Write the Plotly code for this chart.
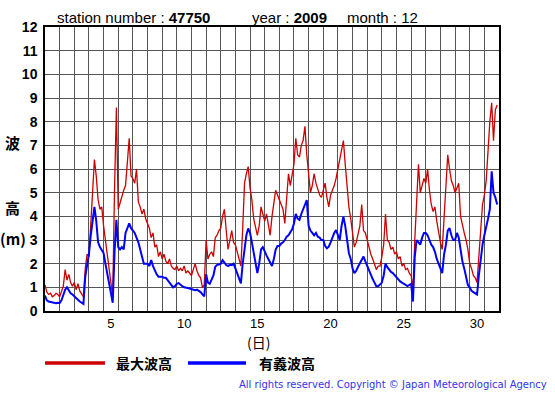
import plotly.graph_objects as go

# Observation times: every 3 hours from 1 Dec 00:00 (hours since start)
hours = list(range(0, 744, 3))

# 最大波高 (maximum wave height, m) – 8 readings per day, days 1..31
max_wave = [
    1.1, 0.8, 0.7, 0.75, 0.6, 0.65, 0.75, 0.7,
    0.6, 0.8, 1.05, 1.75, 1.3, 1.55, 1.2, 1.05,
    1.2, 0.9, 1.15, 0.85, 0.7, 0.6, 1.8, 2.4,
    2.3, 3.6, 5.3, 6.4, 5.7, 4.7, 4.3, 4.4,
    3.6, 3.0, 2.4, 1.8, 1.2, 0.6, 5.2, 8.6,
    4.3, 4.6, 4.9, 5.1, 5.3, 6.3, 7.3, 5.7,
    5.6, 5.4, 6.0, 4.6, 4.4, 4.1, 4.3, 3.9,
    3.7, 3.5, 3.1, 3.3, 2.7, 2.8, 2.3, 2.5,
    2.2, 2.4, 2.1, 2.0, 2.2, 1.9, 1.8, 1.75,
    1.9, 1.7, 1.8, 1.7, 1.9, 1.6, 1.7, 1.6,
    1.5, 1.75, 2.0, 1.7, 1.5, 1.4, 1.0, 1.1,
    3.0, 2.2, 2.4, 2.5, 2.3, 3.1, 3.2, 3.4,
    3.5, 4.0, 4.3, 3.4, 2.6, 3.0, 3.4, 2.9,
    2.8, 2.5, 2.2, 1.9, 3.5, 5.4, 5.8, 6.1,
    5.2, 4.7, 3.9, 3.5, 3.2, 3.6, 4.4, 4.1,
    3.8, 4.1, 3.6, 3.2, 4.0, 4.6, 5.1, 4.9,
    4.7, 4.5, 4.3, 3.7, 4.8, 5.8, 5.3, 5.7,
    6.2, 7.3, 6.6, 6.5, 7.0, 7.2, 7.8, 6.6,
    5.9, 5.0, 5.3, 5.8, 5.4, 5.1, 4.9, 4.8,
    5.1, 5.4, 4.8, 4.4, 4.9, 5.1, 5.3, 5.6,
    6.0, 6.5, 6.8, 7.2, 6.2, 5.3, 4.4, 3.9,
    3.2, 2.7, 2.9, 3.2, 3.6, 4.5, 3.4, 3.3,
    3.0, 2.6, 2.4, 2.2, 2.0, 1.75, 1.9, 1.9,
    2.3, 2.8, 4.1, 3.0, 2.9, 2.6, 2.7, 2.4,
    2.5, 2.2, 2.3, 1.9, 2.0, 1.75, 1.8, 1.6,
    1.5, 0.9, 3.0, 4.8, 6.2, 5.0, 5.3, 5.6,
    5.4, 6.0, 5.1, 4.5, 4.2, 4.4, 3.8, 3.3,
    2.9, 2.6, 3.8, 5.0, 6.6, 6.0, 5.5, 5.3,
    5.0, 5.2, 5.4, 4.0, 3.6, 3.3, 3.0, 2.6,
    2.0, 1.8, 1.5, 1.4, 1.2, 2.5, 3.4, 4.5,
    4.9, 5.5, 7.0, 8.0, 8.8, 7.2, 8.5, 8.7,
]

# 有義波高 (significant wave height, m)
sig_wave = [
    0.65, 0.45, 0.4, 0.38, 0.35, 0.35, 0.33, 0.35,
    0.33, 0.45, 0.7, 0.9, 1.0, 0.85, 0.75, 0.7,
    0.62, 0.55, 0.45, 0.4, 0.35, 0.3, 1.45, 1.9,
    2.4, 3.2, 3.7, 4.4, 3.8, 2.9, 2.7, 2.6,
    2.45, 2.0, 1.6, 1.1, 0.8, 0.35, 2.5, 3.85,
    2.7, 2.6, 2.7, 2.6, 3.3, 3.55, 3.7, 3.5,
    3.4, 3.3, 3.1, 2.9, 2.6, 2.3, 2.0, 2.0,
    2.0, 1.9, 2.15, 1.9, 1.7, 1.55, 1.45, 1.45,
    1.45, 1.4, 1.4, 1.3, 1.2, 1.05, 1.0, 1.05,
    1.15, 1.18, 1.1, 1.05, 1.0, 1.0, 0.97, 0.95,
    0.92, 0.9, 0.88, 0.9, 0.85, 0.8, 0.7, 0.62,
    1.55, 1.2, 1.15, 1.3, 1.5, 1.87, 1.95, 1.96,
    2.0, 2.15, 2.05, 1.94, 1.9, 1.95, 1.94, 2.0,
    1.8, 1.59, 1.35, 1.17, 2.0, 2.6, 3.2, 3.49,
    3.3, 2.9, 2.4, 2.0, 1.6, 2.0, 2.6, 2.7,
    2.5, 2.35, 2.2, 2.05, 1.9, 2.2, 2.6, 2.75,
    2.75, 2.85, 2.9, 3.0, 3.14, 3.2, 3.3, 3.45,
    3.7, 4.1, 3.9, 3.85, 4.1, 4.3, 4.5, 4.69,
    3.6, 3.4, 3.3, 3.2, 3.3, 3.14, 3.1, 3.0,
    3.0, 2.75, 2.65, 2.72, 2.9, 3.14, 3.3, 3.42,
    3.2, 3.0, 3.6, 3.98, 3.6, 3.0, 2.44, 2.2,
    1.8, 1.6, 1.7, 1.87, 2.0, 2.15, 2.3, 2.1,
    1.9, 1.7, 1.5, 1.35, 1.2, 1.05, 1.05, 1.15,
    1.2, 1.5, 2.0, 1.85, 1.73, 1.65, 1.6, 1.5,
    1.4, 1.3, 1.25, 1.2, 1.15, 1.1, 1.05, 1.1,
    1.15, 0.4, 2.3, 3.0, 2.9, 2.8, 3.1, 3.3,
    3.3, 3.2, 3.0, 2.8, 2.7, 2.5, 2.2, 2.0,
    1.8, 1.6, 2.4, 2.8, 3.4, 3.5, 3.2, 3.0,
    3.0, 3.3, 3.1, 2.5, 2.1, 1.8, 1.4, 1.1,
    1.0, 0.85, 0.8, 0.75, 0.7, 1.5, 2.2, 2.8,
    3.2, 3.5, 3.9, 4.3, 5.9, 5.0, 4.8, 4.5,
]

day_labels = ["5", "10", "15", "20", "25", "30"]
day_label_pos = [4.5, 9.5, 14.5, 19.5, 24.5, 29.5]   # centre of each labelled day
y_ticks = list(range(0, 13))

x_days = [h / 24 for h in hours]

W, H = 555, 395
L, R, T, B = 45, 499, 27, 311


def px(xp):
    return (xp - L) / (R - L)


def py(yp):
    return (B - yp) / (B - T)


RED = "#CC0000"
BLUE = "#0000FF"
GRID = "#555555"
FONT = "Liberation Sans, Arial, sans-serif"
CJK = "Noto Sans CJK JP, sans-serif"

fig = go.Figure()
fig.add_trace(go.Scatter(x=x_days, y=max_wave, mode="lines", name="最大波高",
                         line=dict(color=RED, width=1.3), showlegend=False))
fig.add_trace(go.Scatter(x=x_days, y=sig_wave, mode="lines", name="有義波高",
                         line=dict(color=BLUE, width=2), showlegend=False))

fig.update_layout(
    width=W, height=H,
    margin=dict(l=L, r=W - R, t=T, b=H - B, pad=0),
    paper_bgcolor="white", plot_bgcolor="white",
    font=dict(family=FONT, color="black", size=13),
    xaxis=dict(
        range=[0, 31], tickmode="array", tickvals=day_label_pos, ticktext=day_labels,
        showgrid=False, zeroline=False, ticks="", ticklen=0,
        tickfont=dict(size=13, family=FONT, color="black"),
        showline=True, linecolor="black", linewidth=1.5, mirror=True,
        minor=dict(tickvals=list(range(1, 31)), showgrid=True, gridcolor=GRID, gridwidth=1),
    ),
    yaxis=dict(
        range=[0, 12], tickmode="array", tickvals=y_ticks,
        showgrid=True, gridcolor=GRID, gridwidth=1, zeroline=False,
        ticks="", ticklen=0, ticklabelstandoff=3,
        tickfont=dict(size=14, family=FONT, color="black", weight="bold"),
        showline=True, linecolor="black", linewidth=1.5, mirror=True,
    ),
)

ann = []
# header
ann.append(dict(text="station number : <b>47750</b>", x=px(55), y=py(17), xanchor="left",
                yanchor="middle", font=dict(size=15, family=FONT)))
ann.append(dict(text="year : <b>2009</b>", x=px(250), y=py(17), xanchor="left",
                yanchor="middle", font=dict(size=15, family=FONT)))
ann.append(dict(text="month : 12", x=px(345), y=py(17), xanchor="left",
                yanchor="middle", font=dict(size=15, family=FONT)))
# y title
for t, yy in [("波", 142), ("高", 207), ("(m)", 238)]:
    ann.append(dict(text=t, x=px(12.5), y=py(yy), xanchor="center", yanchor="middle",
                    font=dict(size=15, family=CJK, weight="bold")))
# x title
ann.append(dict(text="(日)", x=px(258), y=py(342), xanchor="center", yanchor="middle",
                font=dict(size=14, family=CJK)))
# legend text
ann.append(dict(text="最大波高", x=px(114), y=py(363), xanchor="left", yanchor="middle",
                font=dict(size=14, family=CJK, weight="bold")))
ann.append(dict(text="有義波高", x=px(257), y=py(363), xanchor="left", yanchor="middle",
                font=dict(size=14, family=CJK, weight="bold")))
# copyright
ann.append(dict(text="All rights reserved. Copyright © Japan Meteorological Agency",
                x=px(549), y=py(384), xanchor="right", yanchor="middle",
                font=dict(size=10, family="DejaVu Sans, sans-serif", color="#3333EE")))
for a in ann:
    a.update(xref="paper", yref="paper", showarrow=False)
fig.update_layout(annotations=ann)

fig.update_layout(shapes=[
    dict(type="line", xref="paper", yref="paper", x0=px(45), x1=px(105), y0=py(363), y1=py(363),
         line=dict(color=RED, width=3.5)),
    dict(type="line", xref="paper", yref="paper", x0=px(188), x1=px(246), y0=py(363), y1=py(363),
         line=dict(color=BLUE, width=3.5)),
])

fig.write_html("out.html", config={"displayModeBar": False},
               post_script="document.body.style.margin='0';document.body.style.padding='0';")
